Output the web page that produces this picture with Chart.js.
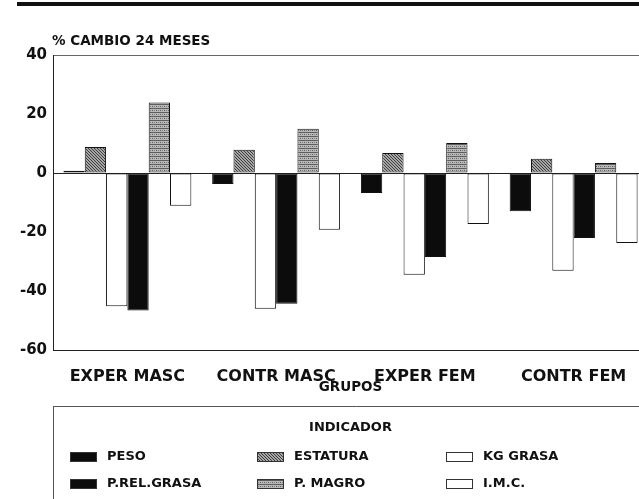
<!DOCTYPE html>
<html>
<head>
<meta charset="utf-8">
<script src="https://cdn.jsdelivr.net/npm/chart.js@4.4.1/dist/chart.umd.min.js"></script>
<style>
body { margin: 0; overflow: hidden; background: #fff; }
canvas { display: block; }
</style>
</head>
<body>
<canvas id="myChart" width="660" height="499"></canvas>
<script>
const grupos = ['EXPER MASC', 'CONTR MASC', 'EXPER FEM', 'CONTR FEM'];
const peso = [0.8, -3.7, -6.8, -13];
const estatura = [8.8, 7.9, 6.8, 4.8];
const kgGrasa = [-45.2, -46, -34.5, -33.1];
const pRelGrasa = [-46.6, -44.3, -28.5, -22];
const pMagro = [23.9, 15, 10.2, 3.4];
const imc = [-11.1, -19.2, -17.3, -23.7];
const yMin = -60, yMax = 40, yStep = 20;

Chart.defaults.font.family = "'DejaVu Sans', sans-serif";
Chart.defaults.color = '#111';

// little tiles for the two gray fills
function makePattern(size, draw) {
    var c = document.createElement('canvas');
    c.width = size;
    c.height = size;
    var g = c.getContext('2d');
    draw(g);
    return g.createPattern(c, 'repeat');
}

var hatch = makePattern(3, function(g) {
    g.fillStyle = '#a6a6a6';
    g.fillRect(0, 0, 3, 3);
    g.fillStyle = '#3c3c3c';
    g.fillRect(0, 0, 1, 1);
    g.fillRect(1, 1, 1, 1);
    g.fillRect(2, 2, 1, 1);
});

var dots = makePattern(4, function(g) {
    g.fillStyle = '#b8b8b8';
    g.fillRect(0, 0, 4, 4);
    g.fillStyle = '#5e5e5e';
    g.fillRect(0, 0, 4, 1);
    g.fillRect(0, 2, 1, 1);
    g.fillStyle = '#808080';
    g.fillRect(2, 2, 1, 1);
});

function bars(label, data, fill) {
    return {
        label: label,
        data: data,
        backgroundColor: fill,
        borderColor: '#111',
        borderWidth: 1,
        borderSkipped: false,
        categoryPercentage: 0.86,
        barPercentage: 1.0
    };
}

// extra drawing: page rule, chart title and the boxed legend
const decor = {
    id: 'decor',
    beforeDraw(chart) {
        var c = chart.ctx;
        c.save();
        c.fillStyle = '#fff';
        c.fillRect(0, 0, chart.width, chart.height);
        c.fillStyle = '#111';
        c.fillRect(17, 2, chart.width, 4);
        c.restore();
    },
    afterDraw(chart) {
        var c = chart.ctx;
        var area = chart.chartArea;
        c.save();
        c.fillStyle = '#111';
        c.textBaseline = 'middle';
        c.font = "bold 13.5px 'DejaVu Sans'";
        c.textAlign = 'left';
        c.fillText('% CAMBIO 24 MESES', 52, 41);

        // legend box
        c.strokeStyle = '#555';
        c.lineWidth = 1;
        c.beginPath();
        c.moveTo(area.left, 406.5);
        c.lineTo(chart.width, 406.5);
        c.moveTo(area.left + 0.5, 406);
        c.lineTo(area.left + 0.5, chart.height);
        c.stroke();

        c.font = "bold 13px 'DejaVu Sans'";
        c.textAlign = 'center';
        c.fillText('INDICADOR', (area.left + area.right) / 2, 428);

        var cols = [70, 257, 446];
        var rows = [457, 484];
        c.textAlign = 'left';
        chart.data.datasets.forEach(function(ds, i) {
            var x = cols[i % 3];
            var y = rows[Math.floor(i / 3)];
            c.fillStyle = ds.backgroundColor;
            c.fillRect(x, y - 5, 27, 10);
            c.strokeStyle = '#333';
            c.strokeRect(x + 0.5, y - 4.5, 26, 9);
            c.fillStyle = '#111';
            c.fillText(ds.label, x + 37, y);
        });
        c.restore();
    }
};

var ctx = document.getElementById('myChart');

const chart = new Chart(ctx, {
    type: 'bar',
    data: {
        labels: grupos,
        datasets: [
            bars('PESO', peso, '#0c0c0c'),
            bars('ESTATURA', estatura, hatch),
            bars('KG GRASA', kgGrasa, '#ffffff'),
            bars('P.REL.GRASA', pRelGrasa, '#0c0c0c'),
            bars('P. MAGRO', pMagro, dots),
            bars('I.M.C.', imc, '#ffffff')
        ]
    },
    options: {
        responsive: false,
        animation: false,
        layout: {padding: {top: 55, right: 12, left: 0, bottom: 0}},
        plugins: {
            legend: {display: false},
            tooltip: {enabled: false}
        },
        scales: {
            x: {
                grid: {display: false},
                border: {display: true, color: '#222', width: 1},
                ticks: {
                    font: {size: 16, weight: 'bold'},
                    padding: 9,
                    maxRotation: 0,
                    autoSkip: false
                },
                title: {
                    display: true,
                    text: 'GRUPOS',
                    font: {size: 13.5, weight: 'bold'},
                    padding: {top: 0, bottom: 103}
                },
                afterFit: function(scale) { scale.height = 149; }
            },
            y: {
                min: yMin,
                max: yMax,
                grid: {
                    drawTicks: false,
                    color: function(c) {
                        if (c.tick && c.tick.value === yMax) return '#666';
                        if (c.tick && c.tick.value === 0) return '#222';
                        return 'rgba(0,0,0,0)';
                    }
                },
                border: {display: true, color: '#222', width: 1},
                ticks: {
                    stepSize: yStep,
                    font: {size: 15, weight: 'bold'},
                    padding: 6
                },
                afterFit: function(scale) { scale.width = 53; }
            }
        }
    },
    plugins: [decor]
});
</script>
</body>
</html>
